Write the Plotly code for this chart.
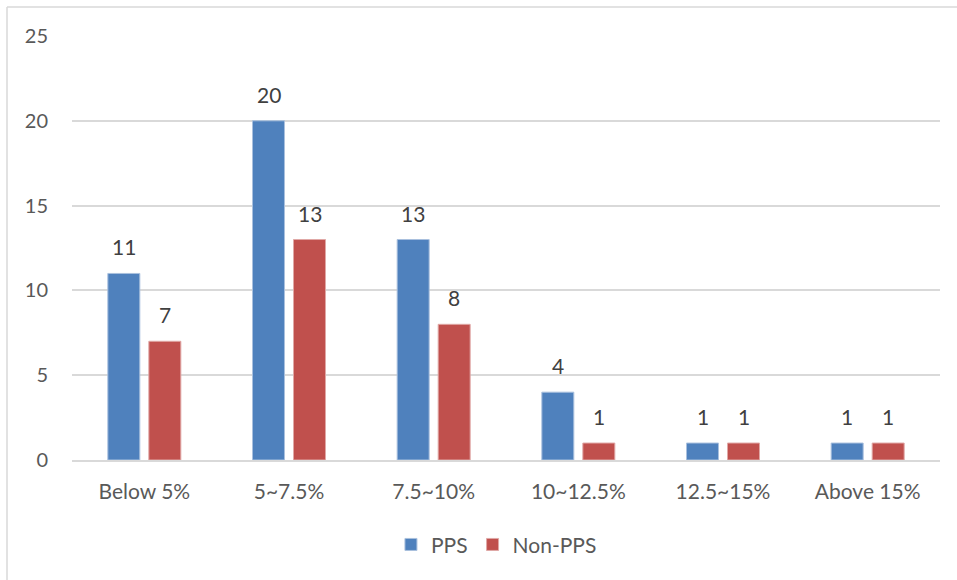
import plotly.graph_objects as go

categories = ["Below 5%", "5~7.5%", "7.5~10%", "10~12.5%", "12.5~15%", "Above 15%"]
pps = [11, 20, 13, 4, 1, 1]
non_pps = [7, 13, 8, 1, 1, 1]
y_ticks = [0, 5, 10, 15, 20, 25]

BLUE = "#4F81BD"
RED = "#C0504D"
TXT = "#595959"
FONT = "Lato, Open Sans, sans-serif"

fig = go.Figure()
fig.add_trace(go.Bar(x=categories, y=pps, name="PPS", marker=dict(color=BLUE, line=dict(color="#A9C0DE", width=1))))
fig.add_trace(go.Bar(x=categories, y=non_pps, name="Non-PPS", marker=dict(color=RED, line=dict(color="#E0A8A6", width=1))))

annotations = []
for series, shift in ((pps, -20.5), (non_pps, 20.5)):
    for c, v in zip(categories, series):
        annotations.append(dict(x=c, y=v, xref="x", yref="y", text=str(v), showarrow=False,
                                xshift=shift, yshift=12, yanchor="bottom",
                                font=dict(family=FONT, size=21, color="#404040")))

L, R, T, B = 72, 17, 36, 120
W, H = 957, 580
pw, ph = W - L - R, H - T - B
x0 = (7 - L) / pw
y1 = 1 + (T - 7) / ph
yb = -B / ph
x1 = (W - L) / pw
shapes = [
    dict(type="line", xref="paper", yref="paper", x0=x0, x1=x0, y0=yb, y1=y1, line=dict(color="#D9D9D9", width=1.5)),
    dict(type="line", xref="paper", yref="paper", x0=x0, x1=x1, y0=y1, y1=y1, line=dict(color="#D9D9D9", width=1.5)),
]

fig.update_layout(
    width=W, height=H,
    margin=dict(l=L, r=R, t=T, b=B, pad=0),
    paper_bgcolor="white", plot_bgcolor="white",
    barmode="group", bargap=0.433, bargroupgap=0.22,
    font=dict(family=FONT, size=20, color=TXT),
    showlegend=True,
    legend=dict(orientation="h", x=0.489, xanchor="center", y=-0.2, yanchor="middle",
                font=dict(family=FONT, size=21, color=TXT), itemwidth=30, traceorder="normal"),
    annotations=annotations,
    shapes=shapes,
)
fig.update_xaxes(showgrid=False, showline=True, linecolor="#D9D9D9", linewidth=1.5,
                 ticks="", ticklabelstandoff=12, tickfont=dict(family=FONT, size=21, color=TXT))
fig.update_yaxes(range=[0, 25], tickvals=y_ticks, showgrid=True, gridcolor="#D9D9D9", gridwidth=1.5,
                 zeroline=False, showline=False, ticks="", ticklabelstandoff=23,
                 tickfont=dict(family=FONT, size=20, color=TXT))

fig.write_html("out.html", config={"displayModeBar": False},
               post_script="document.body.style.margin='0';document.body.style.overflow='hidden';")
